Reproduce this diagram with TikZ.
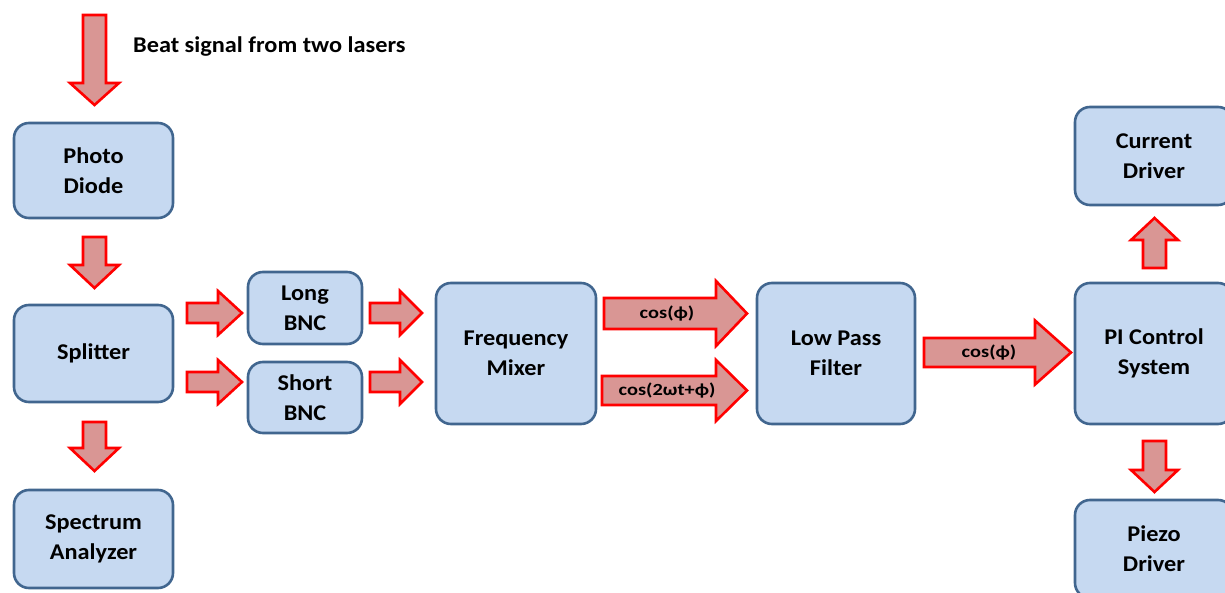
\documentclass[tikz,border=0pt]{standalone}
\usepackage{fontspec}
\setmainfont{Carlito}[FakeStretch=1.08]
\newfontfamily\labelfont{Carlito}[FakeStretch=1.2]
\definecolor{boxfill}{HTML}{C6D9F1}
\definecolor{boxline}{HTML}{41668F}
\definecolor{arrfill}{HTML}{D99694}
\definecolor{arrline}{HTML}{FF0000}
\tikzset{
  blk/.style={draw=boxline, fill=boxfill, line width=2.6pt, rounded corners=15pt,
    align=center, font=\fontsize{22.5}{30}\selectfont\bfseries, inner sep=0pt},
  barrow/.style={draw=arrline, fill=arrfill, line width=2.6pt, line join=miter},
  alabel/.style={font=\labelfont\fontsize{17}{20}\selectfont\bfseries, inner sep=0pt}
}
% right arrow: tailx, tipx, cy, shafthalf, headhalf, headstartx
\newcommand{\rarrow}[6]{%
  \draw[barrow] (#1,#3-#4) -- (#6,#3-#4) -- (#6,#3-#5) -- (#2,#3) -- (#6,#3+#5) -- (#6,#3+#4) -- (#1,#3+#4) -- cycle;}
% vertical arrow: cx, taily, tipy, shafthalf, headhalf, headstarty
\newcommand{\varrow}[6]{%
  \draw[barrow] (#1-#4,#2) -- (#1-#4,#6) -- (#1-#5,#6) -- (#1,#3) -- (#1+#5,#6) -- (#1+#4,#6) -- (#1+#4,#2) -- cycle;}
\begin{document}
\begin{tikzpicture}[x=1pt,y=-1pt]
\useasboundingbox (0,0) rectangle (1225,593);
\begin{scope}
\clip (0,0) rectangle (1225,593);
% boxes
\node[blk, minimum width=159pt, minimum height=95pt] (pd) at (93.5,170.5) {Photo\\Diode};
\node[blk, minimum width=159pt, minimum height=97pt] (split) at (93.5,353.5) {Splitter};
\node[blk, minimum width=159pt, minimum height=98pt] (spec) at (93.5,539) {Spectrum\\Analyzer};
\node[blk, minimum width=114pt, minimum height=72pt] (long) at (305,308) {Long\\BNC};
\node[blk, minimum width=114pt, minimum height=71pt] (short) at (305,397.5) {Short\\BNC};
\node[blk, minimum width=160pt, minimum height=141pt] (mix) at (516,353.5) {Frequency\\Mixer};
\node[blk, minimum width=158pt, minimum height=141pt] (lpf) at (836,353.5) {Low Pass\\Filter};
\node[blk, minimum width=158pt, minimum height=141pt] (pi) at (1154,353.5) {PI Control\\System};
\node[blk, minimum width=158pt, minimum height=98pt] (cur) at (1154,156) {Current\\Driver};
\node[blk, minimum width=158pt, minimum height=98pt] (piezo) at (1154,549) {Piezo\\Driver};
% arrows
\varrow{94.5}{15}{105}{11.5}{24.5}{83}
\varrow{94.5}{237}{288}{11.5}{24.5}{265}
\varrow{94.5}{422}{471}{11.5}{24.5}{448}
\rarrow{187}{242}{313}{10}{22}{218}
\rarrow{187}{242}{382}{10}{22}{218}
\rarrow{370}{422}{313}{10}{22}{400}
\rarrow{370}{422}{382}{10}{22}{400}
\rarrow{604}{747}{313.5}{15.5}{32.5}{716}
\rarrow{602}{747}{390.5}{14.5}{30.5}{716}
\rarrow{924}{1071}{352.5}{14.5}{32}{1035}
\varrow{1154.5}{268}{218}{11.5}{23.5}{240}
\varrow{1154.5}{441}{492}{11.5}{23.5}{470}
\end{scope}
\node[alabel] (l1) at (667,313.5) {cos(ϕ)};
\node[alabel] (l2) at (667,390.5) {cos(2ωt+ϕ)};
\node[alabel] (l3) at (989,352.5) {cos(ϕ)};
\node[font=\fontsize{22.5}{27}\selectfont\bfseries, anchor=west, inner sep=0pt] (beat) at (133,47) {Beat signal from two lasers};
\end{tikzpicture}
\end{document}
